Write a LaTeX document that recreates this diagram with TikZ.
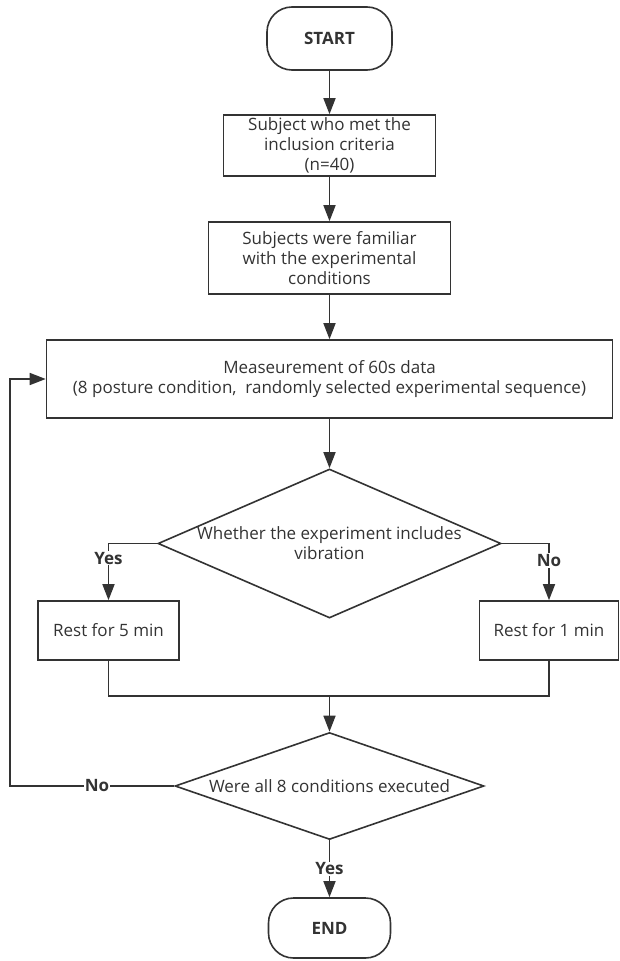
\documentclass[tikz,border=0pt]{standalone}
\usepackage{fontspec}
\setmainfont{Open Sans}
\usepackage{tikz}
\usetikzlibrary{positioning,shapes.geometric,arrows.meta}
\usepackage{xcolor}
\definecolor{flowgray}{HTML}{333333}

\begin{document}
\begin{tikzpicture} [x=1pt, y=-1pt, color=flowgray, line width=1.6pt,
		font=\fontsize{17}{20}\selectfont,
		box/.style={draw, rectangle, align=center, inner sep=0pt},
		term/.style={draw, rectangle, rounded corners=25pt, font=\fontsize{17}{20}\selectfont\bfseries},
		decision/.style={draw, diamond, inner sep=0pt},
		lbl/.style={fill=white, inner sep=1pt, font=\fontsize{17}{20}\selectfont\bfseries},
		arr/.style={-{Triangle[length=16pt, width=12pt]}}]
						\useasboundingbox (0, 0) rectangle (619, 961);

						\node [term, minimum width=125pt, minimum height=63pt] (start) at (329.5, 38.5) {START};

						\node [box, minimum width=212pt, minimum height=61pt] (subj) at (329.5, 145.5) {Subject who met the\\inclusion criteria\\(n=40)};

						\node [box, minimum width=242pt, minimum height=72pt] (famil) at (329.5, 258) {Subjects were familiar\\with the experimental\\conditions};

						\node [box, minimum width=566pt, minimum height=78pt] (meas) at (329.5, 379) {Measeurement of 60s data\\(8 posture condition,~ randomly selected experimental sequence)};

						% first decision
						\node [decision, minimum width=343pt, minimum height=149pt] (vib) at (329.5, 543.5) {};
						\node [align=center] (vibtext) at (329.5, 543) {Whether the experiment includes\\vibration};

						\node [box, minimum width=141pt, minimum height=59pt] (rest5) at (108.5, 630.5) {Rest for 5 min};

						\node [box, minimum width=139pt, minimum height=59pt] (rest1) at (549, 630.5) {Rest for 1 min};

						\coordinate (merge) at (329.5, 696);

						% second decision
						\node [decision, minimum width=309pt, minimum height=107pt] (allc) at (329.5, 786) {};
						\node (allctext) at (329.5, 786) {Were all 8 conditions executed};

						\node [term, minimum width=122pt, minimum height=60pt] (end) at (329.5, 928) {END};

						\coordinate (loopx) at (10, 0);


						\draw [arr] (start) -- (subj);
						\draw [arr] (subj) -- (famil);
						\draw [arr] (famil) -- (meas);
						\draw [arr] (meas) -- (vib);

						\draw [arr] (vib.west) -| node [lbl, pos=0.63] {Yes} (rest5.north);
						\draw [arr] (vib.east) -| node [lbl, pos=0.65] {No} (rest1.north);

						\draw (rest5.south) |- (merge) -| (rest1.south);
						\draw [arr] (merge) -- (allc.north);

						\draw [arr] (allc.west) -- node [lbl, pos=0.47] {No} (allc.west -| loopx) |- (meas.west);
						\draw [arr] (allc.south) -- node [lbl] {Yes} (end.north);

					\end{tikzpicture}
\end{document}
